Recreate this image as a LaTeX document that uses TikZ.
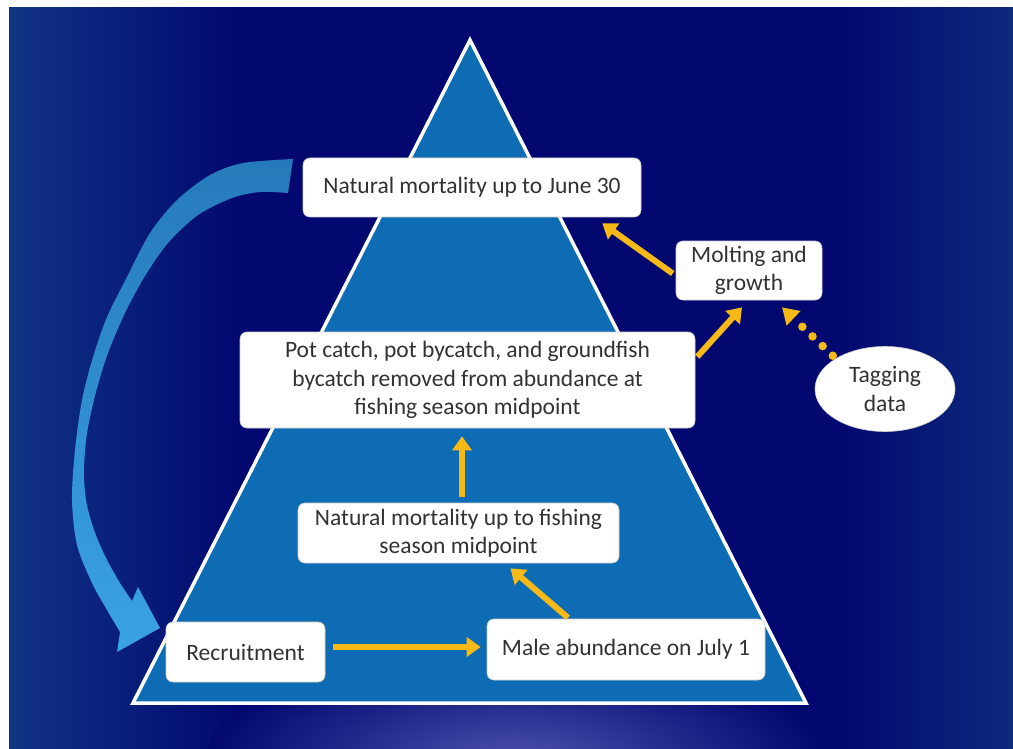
\documentclass[tikz,border=0pt]{standalone}
\usepackage{fontspec}
\setmainfont{Carlito}
\usetikzlibrary{arrows.meta,shapes.geometric}
\definecolor{navy}{RGB}{2,8,112}
\definecolor{bgl}{RGB}{16,52,132}
\definecolor{bgr}{RGB}{14,42,124}
\definecolor{glow}{RGB}{76,82,172}
\definecolor{tri}{RGB}{14,108,180}
\definecolor{yel}{RGB}{246,185,22}
\definecolor{txt}{RGB}{50,50,50}
\definecolor{arrtop}{RGB}{38,122,186}
\definecolor{arrbot}{RGB}{58,162,228}
\begin{document}
\begin{tikzpicture}[x=1pt,y=-1pt,
  box/.style={fill=white, draw=gray!40, line width=0.6pt, rounded corners=7pt,
    inner sep=0pt, align=center, text=txt, font=\fontsize{23.5}{28.5}\selectfont},
  yarrow/.style={draw=yel, line width=6pt, -{Triangle[width=19pt,length=14pt]}},
  ydots/.style={draw=yel, line width=8.5pt, line cap=round, dash pattern=on 0pt off 14pt,
    -{Triangle[width=19pt,length=16pt,line cap=butt]}},
  bigarrow/.style={top color=arrtop, bottom color=arrbot}]
\useasboundingbox (0,0) rectangle (1013,749);
% background
\fill[navy] (9,7) rectangle (1013,749);
\shade[left color=bgl, right color=navy] (9,7) rectangle (240,749);
\shade[left color=navy, right color=bgr] (840,7) rectangle (1013,749);
\shade[inner color=glow, outer color=navy] (515,762) ellipse [x radius=310, y radius=112];
\fill[white] (0,0) rectangle (1013,7);
\fill[white] (0,0) rectangle (9,749);
% pyramid
\filldraw[fill=tri, draw=white, line width=3.5pt, line join=miter] (470,40) -- (806,703) -- (133,703) -- cycle;
% big curved arrow
\shade[bigarrow] plot[smooth] coordinates {(293,159) (243,163) (210,175) (177,200) (150,233) (127,277) (107,317) (93,357) (82,400) (75,450) (72,500) (77,545) (92,583) (107,610) (120,632)}
  -- (117,652) -- (160,628) -- (138,587)
  -- plot[smooth] coordinates {(132,601) (120,583) (106,558) (94,530) (86,500) (84,470) (87,433) (96,392) (108,353) (125,313) (145,276) (168,243) (198,215) (232,198) (260,192) (288,193)}
  -- cycle;
% nodes
\node[box, minimum width=338pt, minimum height=59pt] (nm30) at (472,187.5) {Natural mortality up to June 30};
\node[box, minimum width=146pt, minimum height=59pt] (molt) at (749,270.5) {Molting and\\growth};
\node[box, minimum width=455pt, minimum height=96pt] (pot) at (467.5,380) {Pot catch, pot bycatch, and groundfish\\bycatch removed from abundance at\\fishing season midpoint};
\node[box, ellipse, rounded corners=0pt, minimum width=140pt, minimum height=85pt] (tag) at (885,389) {Tagging\\data};
\node[box, minimum width=321pt, minimum height=60pt] (nmmid) at (458.5,533) {Natural mortality up to fishing\\season midpoint};
\node[box, minimum width=159pt, minimum height=60pt] (rec) at (245.5,652) {Recruitment};
\node[box, minimum width=278pt, minimum height=61pt] (male) at (626,649.5) {Male abundance on July 1};
% connectors
\draw[yarrow] ([shift={(8,-5)}]rec.east) -- ([shift={(-6,-5)}]rec.east -| male.west);
\draw[yarrow] ([shift={(-58,-1)}]male.north) -- ([shift={(52,5)}]nmmid.south);
\draw[yarrow] ([shift={(3.5,-6)}]nmmid.north) -- ([shift={(-5.5,8)}]pot.south);
\draw[yarrow] ([shift={(2,25)}]pot.north east) -- ([shift={(-7,7)}]molt.south);
\draw[yarrow] ([shift={(-3,3)}]molt.west) -- ([shift={(-39,6)}]nm30.south east);
\draw[ydots] ([shift={(-2.5,-3)}]tag.north west) -- ([shift={(33,7)}]molt.south);
\end{tikzpicture}
\end{document}
